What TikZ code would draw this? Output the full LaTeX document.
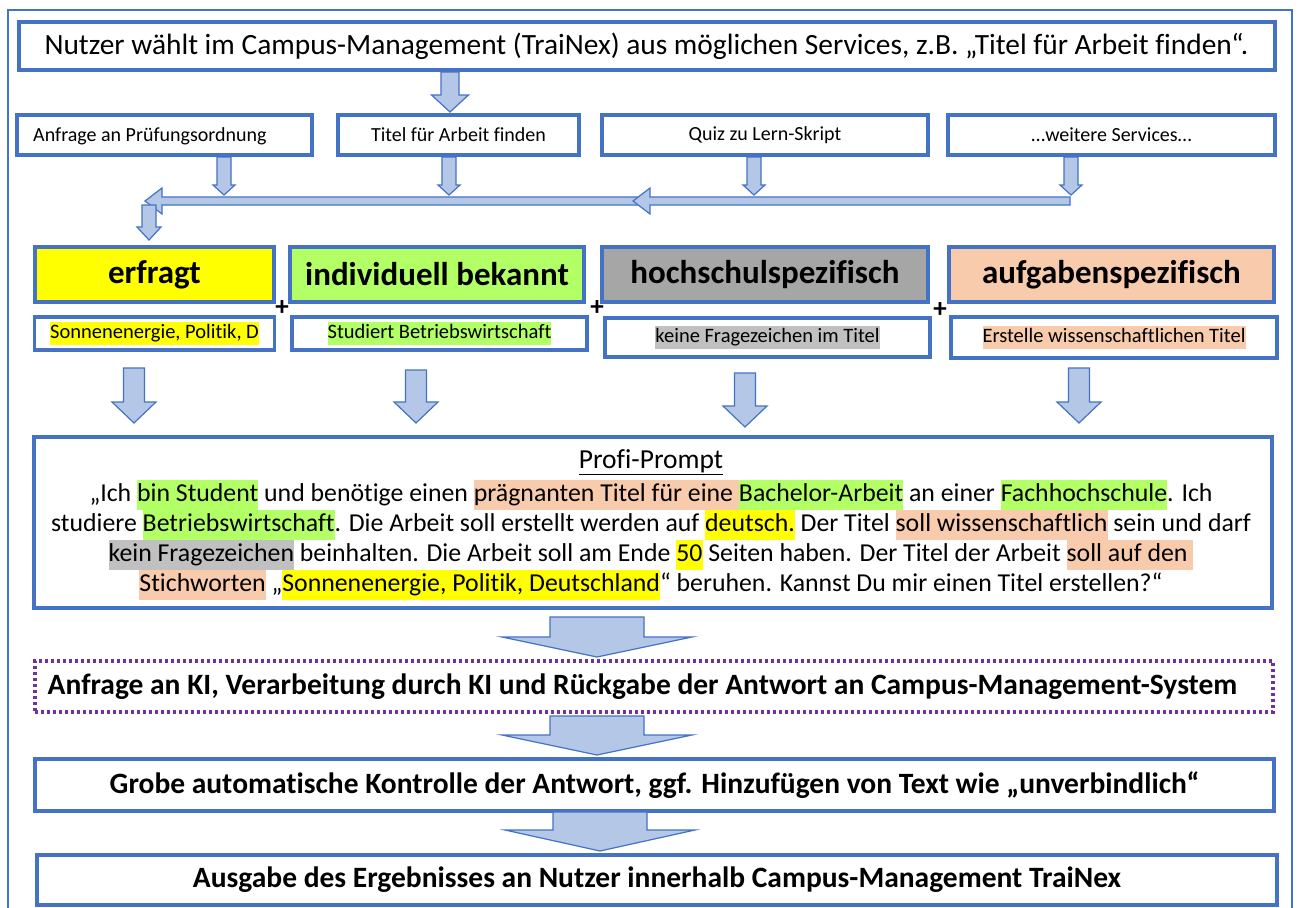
\documentclass[tikz,border=0pt]{standalone}
\usepackage{fontspec}
\setmainfont{Carlito}[Ligatures=NoCommon]
\definecolor{bblue}{HTML}{4472C4}
\definecolor{afill}{HTML}{B4C7E7}
\definecolor{hyel}{HTML}{FFFF00}
\definecolor{hgrn}{HTML}{B3FF66}
\definecolor{hgry}{HTML}{A6A6A6}
\definecolor{hgrl}{HTML}{C0C0C0}
\definecolor{hpch}{HTML}{F8CBAD}
\definecolor{purp}{HTML}{7030A0}
\newcommand{\hl}[2]{{\setlength{\fboxsep}{0pt}\colorbox{#1}{\strut #2}}}
\newcommand{\varr}[6]{\draw[barrow] (#1-#5,#2) -- (#1+#5,#2) -- (#1+#5,#3) -- (#1+#6,#3) -- (#1,#4) -- (#1-#6,#3) -- (#1-#5,#3) -- cycle;}
\newcommand{\larr}[6]{\draw[barrow] (#1,#4-#5) -- (#2,#4-#5) -- (#2,#4-#6) -- (#3,#4) -- (#2,#4+#6) -- (#2,#4+#5) -- (#1,#4+#5) -- cycle;}
\tikzset{
  box/.style={draw=bblue, line width=3.4pt, fill=white, inner sep=0pt},
  barrow/.style={fill=afill, draw=bblue, line width=1.2pt, line join=miter},
  hdr/.style={box, font=\fontsize{33}{38}\selectfont\bfseries},
  sub/.style={box, font=\fontsize{20.5}{23}\selectfont},
  svc/.style={box, font=\fontsize{20}{23}\selectfont},
  big/.style={box, font=\fontsize{29.5}{34}\selectfont\bfseries},
  plus/.style={font=\fontsize{27}{27}\selectfont\bfseries, inner sep=0pt}
}
\begin{document}
\begin{tikzpicture}[x=1pt,y=-1pt]
\useasboundingbox (0,0) rectangle (1300,907);
\fill[white] (0,0) rectangle (1300,907);
% outer frame
\draw[bblue, line width=1.8pt] (8,910) -- (8,10) -- (1292,10) -- (1292,910);
% top
\node[box, minimum width=1256pt, minimum height=48pt] (top) at (647,46) {};
\node[font=\fontsize{29.4}{34}\selectfont, inner sep=0pt] (toptext) at (646.5,46) {Nutzer wählt im Campus-Management (TraiNex) aus möglichen Services, z.B. „Titel für Arbeit finden“.};
\varr{450}{72}{95}{112}{9}{18.5}
% services
\node[svc, minimum width=295pt, minimum height=40pt] (s1) at (164.5,135) {};
\node[font=\fontsize{20}{23}\selectfont, anchor=west, inner sep=0pt] (s1t) at (33,136) {Anfrage an Prüfungsordnung};
\node[svc, minimum width=241pt, minimum height=40pt] (s2) at (458.5,135) {Titel für Arbeit finden};
\node[svc, minimum width=326pt, minimum height=40pt] (s3) at (765,135) {Quiz zu Lern-Skript};
\node[svc, minimum width=327pt, minimum height=40pt] (s4) at (1111.5,135) {…weitere Services…};
\varr{224}{157}{185}{195}{7}{11}
\varr{449}{157}{185}{195}{7}{11}
\varr{754}{157}{185}{195}{7}{11}
\varr{1071}{157}{185}{195}{7}{11}
% bar
\larr{640}{162}{145}{201}{4}{13}
\larr{1070}{650}{633}{201}{4}{13}
\varr{149}{205}{227}{240}{7}{12}
% header boxes
\node[hdr, fill=hyel, minimum width=239pt, minimum height=55pt] (h1) at (154.5,274.5) {erfragt};
\node[hdr, fill=hgrn, minimum width=294pt, minimum height=55pt] (h2) at (437,274.5) {individuell bekannt};
\node[hdr, fill=hgry, minimum width=326pt, minimum height=55pt] (h3) at (765,274.5) {hochschulspezifisch};
\node[hdr, fill=hpch, minimum width=325pt, minimum height=55pt] (h4) at (1111.5,274.5) {aufgabenspezifisch};
\node[plus] (p1) at (282,308) {+};
\node[plus] (p2) at (597,308) {+};
\node[plus] (p3) at (940,310) {+};
% sub boxes
\node[sub, minimum width=240pt, minimum height=33pt] (b1) at (154.5,333.5) {\hl{hyel}{Sonnenenergie, Politik, D}};
\node[sub, minimum width=295pt, minimum height=33pt] (b2) at (439.5,333.5) {\hl{hgrn}{Studiert Betriebswirtschaft}};
\node[sub, minimum width=325pt, minimum height=39pt] (b3) at (767.5,337.5) {\hl{hgrl}{keine Fragezeichen im Titel}};
\node[sub, minimum width=326pt, minimum height=41pt] (b4) at (1114,337.5) {\hl{hpch}{Erstelle wissenschaftlichen Titel}};
\varr{134}{368}{402}{423}{10.5}{22}
\varr{416}{370}{402}{423}{10.5}{22}
\varr{745}{373}{406}{427}{10.5}{22}
\varr{1079}{368}{402}{423}{10.5}{22}
% prompt
\node[box, minimum width=1238pt, minimum height=171pt] (prompt) at (653,522.5) {};
\node[font=\fontsize{27.5}{30}\selectfont, inner sep=0pt] (ptitle) at (651,462) {\underline{Profi-Prompt}};
\node[font=\fontsize{25.8}{30}\selectfont, align=center, inner sep=0pt] (ptext) at (651,540) {%
„Ich \hl{hgrn}{bin Student} und benötige einen \hl{hpch}{prägnanten Titel für eine }\hl{hgrn}{Bachelor-Arbeit} an einer \hl{hgrn}{Fachhochschule}. Ich\\
studiere \hl{hgrn}{Betriebswirtschaft}. Die Arbeit soll erstellt werden auf \hl{hyel}{deutsch.} Der Titel \hl{hpch}{soll wissenschaftlich} sein und darf\\
\hl{hgrl}{kein Fragezeichen} beinhalten. Die Arbeit soll am Ende \hl{hyel}{50} Seiten haben. Der Titel der Arbeit \hl{hpch}{soll auf den }\\
\hl{hpch}{Stichworten} „\hl{hyel}{Sonnenenergie, Politik, Deutschland}“ beruhen. Kannst Du mir einen Titel erstellen?“};
\varr{597}{617}{637}{657}{47}{95}
% bottom
\node[box, draw=purp, dash pattern=on 3pt off 3pt, line width=3.4pt, minimum width=1238pt, minimum height=51pt] (ki) at (654,686.5) {};
\node[font=\fontsize{29.5}{34}\selectfont\bfseries, inner sep=0pt] (kitext) at (642.5,686.5) {Anfrage an KI, Verarbeitung durch KI und Rückgabe der Antwort an Campus-Management-System};
\varr{597}{716}{735}{755}{47}{95}
\node[big, minimum width=1239pt, minimum height=52pt] (ctrl) at (654.5,785) {Grobe automatische Kontrolle der Antwort, ggf. Hinzufügen von Text wie „unverbindlich“};
\varr{600}{812}{830}{851}{47}{95}
\node[big, minimum width=1240pt, minimum height=50pt] (out) at (657,880) {Ausgabe des Ergebnisses an Nutzer innerhalb Campus-Management TraiNex};
\end{tikzpicture}
\end{document}
